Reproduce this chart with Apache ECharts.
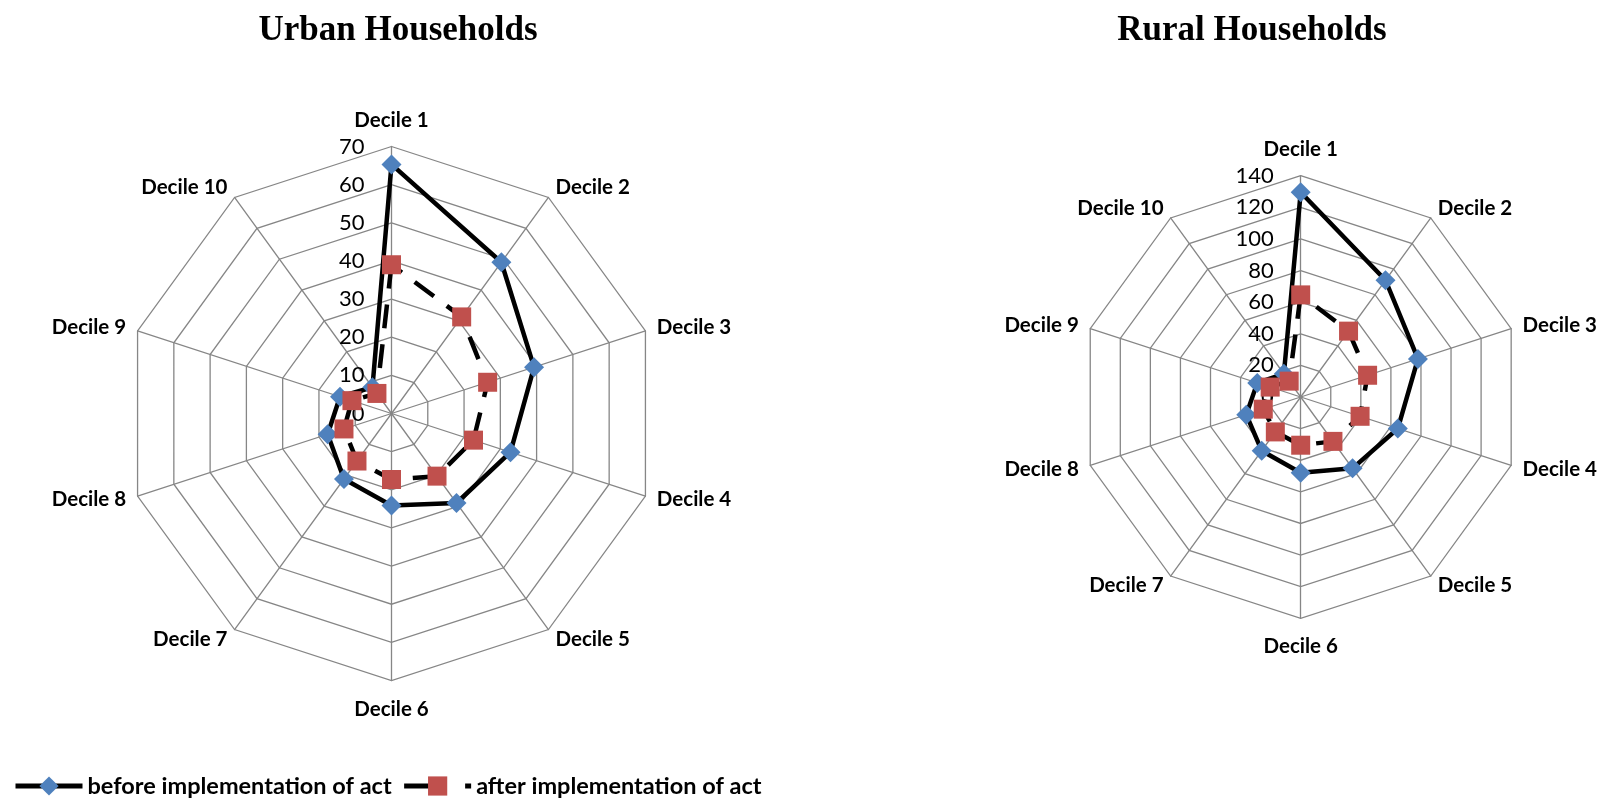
<!DOCTYPE html>
<html>
<head>
<meta charset="utf-8">
<script src="https://cdn.jsdelivr.net/npm/echarts@6/dist/echarts.min.js"></script>
<style>
  html, body { margin: 0; padding: 0; background: #ffffff; }
  #chart { width: 1608px; height: 798px; }
</style>
</head>
<body>
<div id="chart"></div>
<script>
// Income deciles shown on each radar, in reading order
const deciles = ['Decile 1', 'Decile 2', 'Decile 3', 'Decile 4', 'Decile 5',
                 'Decile 6', 'Decile 7', 'Decile 8', 'Decile 9', 'Decile 10'];

// Urban households
const urbanBefore = [65.3, 49.0, 39.3, 32.8, 29.0, 24.1, 21.2, 17.6, 14.2, 8.5];
const urbanAfter  = [39.0, 31.3, 26.5, 22.6, 20.3, 17.3, 15.4, 13.1, 10.9, 6.5];

// Rural households
const ruralBefore = [129.5, 91.3, 78.0, 64.6, 55.8, 47.9, 42.0, 36.2, 28.9, 18.1];
const ruralAfter  = [64.6, 51.5, 44.5, 39.5, 34.7, 30.5, 27.3, 24.9, 20.3, 12.4];

// Axis ranges (7 rings each)
const urbanMax = 70;
const ruralMax = 140;
const ringCount = 7;

const panelTitles = ['Urban Households', 'Rural Households'];
const seriesNames = ['before implementation of act', 'after implementation of act'];

// ECharts lays radar indicators out counter-clockwise; walk the deciles
// in reverse after the first so they read clockwise from the top.
const order = [0, 9, 8, 7, 6, 5, 4, 3, 2, 1];
const reorder = arr => order.map(k => arr[k]);

const BLUE = '#4F81BD';
const RED = '#C0504D';
const GRID = '#868686';
const LABEL_FONT = 'Lato, "Open Sans", sans-serif';
const TITLE_FONT = '"Liberation Serif", "Times New Roman", serif';
const AFTER_DASH = [24, 16];
const LEGEND_DASH = [28, 33];

function indicators(max) {
  return order.map((k, i) => {
    const ind = { name: deciles[k], min: 0, max: max };
    ind.nameGap = k === 0 ? 16 : (k === 5 ? 18 : 12);
    if (i === 0) ind.axisLabel = { show: true };
    return ind;
  });
}

function radarBox(center, radius, max) {
  return {
    center: center,
    radius: radius,
    startAngle: 90,
    shape: 'polygon',
    splitNumber: ringCount,
    indicator: indicators(max),
    axisName: { color: '#000', fontFamily: LABEL_FONT, fontWeight: 'bold', fontSize: 20.5 },
    axisLine: { lineStyle: { color: GRID, width: 1.3 } },
    splitLine: { lineStyle: { color: GRID, width: 1.3 } },
    splitArea: { show: false },
    axisTick: { show: false },
    axisLabel: { show: false, color: '#000', fontFamily: LABEL_FONT, fontSize: 22, margin: 27 }
  };
}

function radarSeries(radarIndex, before, after) {
  return {
    type: 'radar',
    radarIndex: radarIndex,
    data: [
      {
        name: seriesNames[0],
        value: reorder(before),
        symbol: 'diamond',
        symbolSize: 20,
        itemStyle: { color: BLUE },
        lineStyle: { color: '#000', width: 4.5, type: 'solid' }
      },
      {
        name: seriesNames[1],
        value: reorder(after),
        symbol: 'rect',
        symbolSize: 19,
        itemStyle: { color: RED },
        lineStyle: { color: '#000', width: 4.5, type: AFTER_DASH }
      }
    ]
  };
}

const option = {
  backgroundColor: '#ffffff',
  animation: false,
  title: [
    { text: panelTitles[0], left: 393, top: 8, textAlign: 'center',
      textStyle: { fontFamily: TITLE_FONT, fontWeight: 'bold', fontSize: 35, color: '#000' } },
    { text: panelTitles[1], left: 1247, top: 8, textAlign: 'center',
      textStyle: { fontFamily: TITLE_FONT, fontWeight: 'bold', fontSize: 35, color: '#000' } }
  ],
  radar: [
    radarBox([391.5, 413.5], 267, urbanMax),
    radarBox([1300.7, 397], 221.3, ruralMax)
  ],
  // hidden cartesian frame that only carries the legend swatches
  grid: { show: false, left: -200, top: -200, width: 10, height: 10 },
  xAxis: { type: 'category', show: false },
  yAxis: { type: 'value', show: false },
  legend: {
    left: 8,
    top: 769,
    itemWidth: 67,
    itemHeight: 24,
    itemGap: 10,
    data: [
      { name: seriesNames[0], lineStyle: { color: '#000', width: 5, type: 'solid' } },
      { name: seriesNames[1], lineStyle: { color: '#000', width: 5, type: LEGEND_DASH } }
    ],
    textStyle: { fontFamily: LABEL_FONT, fontWeight: 'bold', fontSize: 23.5, color: '#000' }
  },
  series: [
    { type: 'line', name: seriesNames[0], data: [], symbol: 'diamond', symbolSize: 18,
      itemStyle: { color: BLUE }, lineStyle: { color: '#000', width: 5, type: 'solid' } },
    { type: 'line', name: seriesNames[1], data: [], symbol: 'rect', symbolSize: 18,
      itemStyle: { color: RED }, lineStyle: { color: '#000', width: 5, type: LEGEND_DASH } },
    radarSeries(0, urbanBefore, urbanAfter),
    radarSeries(1, ruralBefore, ruralAfter)
  ]
};

const chart = echarts.init(document.getElementById('chart'), null, { renderer: 'canvas' });
chart.setOption(option);
</script>
</body>
</html>
